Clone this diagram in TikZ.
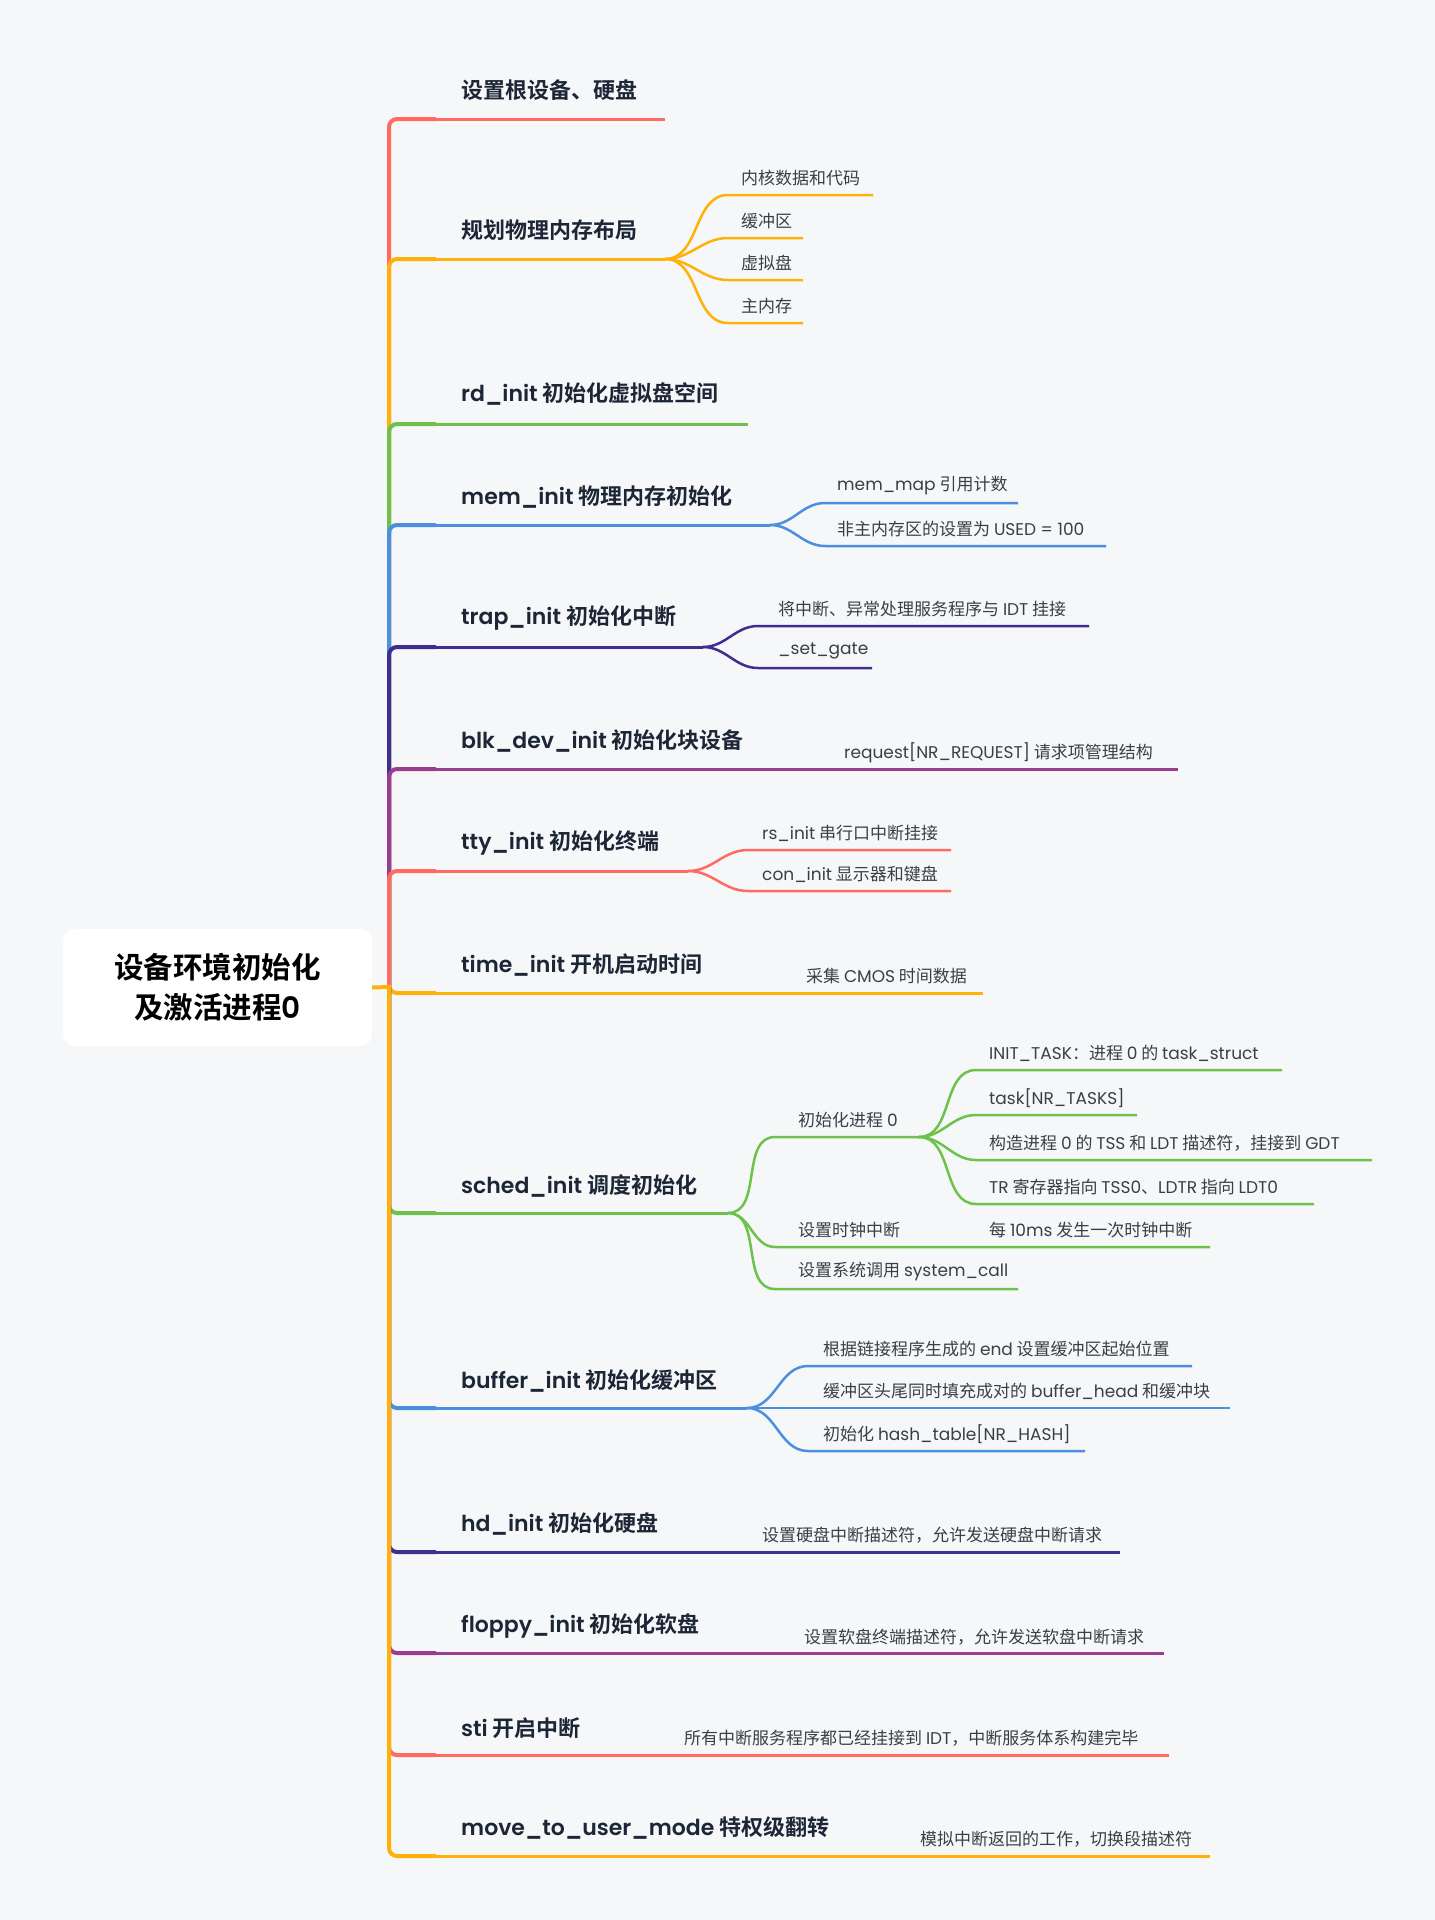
\documentclass[tikz,border=0pt]{standalone}
\usepackage{fontspec}
\setmainfont{Noto Sans CJK SC}[BoldFont={Noto Sans CJK SC Bold}]
\newfontfamily\latinfont{Poppins}[BoldFont={Poppins SemiBold}]
\newcommand{\en}[1]{{\latinfont #1}}
\usepackage{tikz}

\definecolor{bgcol}{HTML}{F6F7F9}
\definecolor{cred}{HTML}{FF6B61}
\definecolor{cyel}{HTML}{FFB10A}
\definecolor{cgrn}{HTML}{6CC24A}
\definecolor{cblu}{HTML}{4A8FE0}
\definecolor{cind}{HTML}{3F2E91}
\definecolor{cmag}{HTML}{9A3C8F}
\definecolor{ctitle}{HTML}{1D2636}
\definecolor{ctext}{HTML}{3A3F47}

\tikzset{
  rootbox/.style={fill=white,rounded corners=12pt,minimum width=309pt,minimum height=117pt,
    align=center,text=black,font=\fontsize{29.5}{40}\selectfont\bfseries},
  mainlbl/.style={anchor=west,inner sep=0pt,text=ctitle,font=\fontsize{22}{26}\selectfont\bfseries},
  sublbl/.style={anchor=west,inner sep=0pt,text=ctext,font=\fontsize{17}{20}\selectfont},
  trunk/.style={line width=4pt,rounded corners=8pt},
  limb/.style={line width=3pt},
  twig/.style={line width=2.5pt},
  sbend/.style={out=0,in=180}
}

\begin{document}
\begin{tikzpicture}[x=1pt,y=-1pt]
\fill[bgcol] (0,0) rectangle (1435,1920);
\useasboundingbox (0,0) rectangle (1435,1920);

\node[rootbox] (root) at (217.5,987.5) {设备环境初始化\\及激活进程\en{0}};
\coordinate (R) at (389,987);

% main topics
\node[mainlbl] (t1) at (461,90) {设置根设备、硬盘};
\node[mainlbl] (t2) at (461,230) {规划物理内存布局};
\node[mainlbl] (t3) at (461,394) {\en{rd\_init} 初始化虚拟盘空间};
\node[mainlbl] (t4) at (461,497) {\en{mem\_init} 物理内存初始化};
\node[mainlbl] (t5) at (461,618) {\en{trap\_init} 初始化中断};
\node[mainlbl] (t6) at (461,741) {\en{blk\_dev\_init} 初始化块设备};
\node[mainlbl] (t7) at (461,843) {\en{tty\_init} 初始化终端};
\node[mainlbl] (t8) at (461,965) {\en{time\_init} 开机启动时间};
\node[mainlbl] (t9) at (461,1186) {\en{sched\_init} 调度初始化};
\node[mainlbl] (t10) at (461,1381) {\en{buffer\_init} 初始化缓冲区};
\node[mainlbl] (t11) at (461,1524) {\en{hd\_init} 初始化硬盘};
\node[mainlbl] (t12) at (461,1626) {\en{floppy\_init} 初始化软盘};
\node[mainlbl] (t13) at (461,1728) {\en{sti} 开启中断};
\node[mainlbl] (t14) at (461,1828) {\en{move\_to\_user\_mode} 特权级翻转};

% branch ends
\foreach \n/\y/\e in {1/119/665,2/259/665,3/424/748,4/525/770,5/647/703,6/769/1178,7/871/688,
  8/993/983,9/1213/728,10/1408/747,11/1552/1120,12/1653/1164,13/1755/1169,14/1856/1210}{
  \coordinate (s\n) at (436,\y);
  \coordinate (e\n) at (\e,\y);
}

% inline notes
\node[sublbl] (k1) at (844,753) {\en{request[NR\_REQUEST]} 请求项管理结构};
\node[sublbl] (c1) at (806,976) {采集 \en{CMOS} 时间数据};
\node[sublbl] (h1) at (762,1535) {设置硬盘中断描述符，允许发送硬盘中断请求};
\node[sublbl] (l1) at (804,1637) {设置软盘终端描述符，允许发送软盘中断请求};
\node[sublbl] (i1) at (684,1738) {所有中断服务程序都已经挂接到 \en{IDT}，中断服务体系构建完毕};
\node[sublbl] (u1) at (920,1839) {模拟中断返回的工作，切换段描述符};

% branches, drawn top to bottom
\draw[trunk,cred] (R) |- (s1);
\draw[limb,cred] (s1) -- (e1);
\draw[trunk,cyel] (R) |- (s2);
\draw[limb,cyel] (s2) -- (e2);
\draw[trunk,cgrn] (R) |- (s3);
\draw[limb,cgrn] (s3) -- (e3);
\draw[trunk,cblu] (R) |- (s4);
\draw[limb,cblu] (s4) -- (e4);
\draw[trunk,cind] (R) |- (s5);
\draw[limb,cind] (s5) -- (e5);
\draw[trunk,cmag] (R) |- (s6);
\draw[limb,cmag] (s6) -- (e6);
\draw[trunk,cred] (R) |- (s7);
\draw[limb,cred] (s7) -- (e7);
\draw[trunk,cyel] (R) |- (s8);
\draw[limb,cyel] (s8) -- (e8);
\draw[trunk,cgrn] (R) |- (s9);
\draw[limb,cgrn] (s9) -- (e9);
\draw[trunk,cblu] (R) |- (s10);
\draw[limb,cblu] (s10) -- (e10);
\draw[trunk,cind] (R) |- (s11);
\draw[limb,cind] (s11) -- (e11);
\draw[trunk,cmag] (R) |- (s12);
\draw[limb,cmag] (s12) -- (e12);
\draw[trunk,cred] (R) |- (s13);
\draw[limb,cred] (s13) -- (e13);
\draw[trunk,cyel] (R) |- (s14);
\draw[limb,cyel] (s14) -- (e14);
\draw[trunk,cyel] (root.east) -- (R);

% sub topics: name/line y/start x/end x/text
\foreach \n/\y/\x/\e/\t in {a1/195/728/873/{内核数据和代码},a2/238/728/803/{缓冲区},
  a3/280/728/803/{虚拟盘},a4/323/728/803/{主内存}}{
  \node[sublbl] (\n) at (\x+13,\y-17) {\t};
  \draw[twig,cyel] (e2) to[sbend] (\x,\y) coordinate (\n s) -- (\e,\y) coordinate (\n e);
}
\foreach \n/\y/\x/\e/\t in {m1/503/825/1018/{\en{mem\_map} 引用计数},
  m2/546/825/1106/{非主内存区的设置为 \en{USED = 100}}}{
  \node[sublbl] (\n) at (\x+12,\y-17) {\t};
  \draw[twig,cblu] (e4) to[sbend] (\x,\y) coordinate (\n s) -- (\e,\y) coordinate (\n e);
}
\foreach \n/\y/\x/\e/\t in {p1/626/758/1089/{将中断、异常处理服务程序与 \en{IDT} 挂接},
  p2/668/758/872/{\en{\_set\_gate}}}{
  \node[sublbl] (\n) at (\x+20,\y-17) {\t};
  \draw[twig,cind] (e5) to[sbend] (\x,\y) coordinate (\n s) -- (\e,\y) coordinate (\n e);
}
\foreach \n/\y/\x/\e/\t in {y1/850/748/951/{\en{rs\_init} 串行口中断挂接},
  y2/891/748/951/{\en{con\_init} 显示器和键盘}}{
  \node[sublbl] (\n) at (\x+14,\y-17) {\t};
  \draw[twig,cred] (e7) to[sbend] (\x,\y) coordinate (\n s) -- (\e,\y) coordinate (\n e);
}
\foreach \n/\y/\x/\e/\t in {q1/1137/775/919/{初始化进程 \en{0}},q2/1247/775/1210/{设置时钟中断},
  q3/1289/775/1018/{设置系统调用 \en{system\_call}}}{
  \node[sublbl] (\n) at (\x+23,\y-17) {\t};
  \draw[twig,cgrn] (e9) to[sbend] (\x,\y) coordinate (\n s) -- (\e,\y) coordinate (\n e);
}
\node[sublbl] (g5) at (989,1230) {每 \en{10ms} 发生一次时钟中断};
\foreach \n/\y/\x/\e/\t in {g1/1070/976/1282/{\en{INIT\_TASK}：进程 \en{0} 的 \en{task\_struct}},
  g2/1115/976/1137/{\en{task[NR\_TASKS]}},
  g3/1160/976/1372/{构造进程 \en{0} 的 \en{TSS} 和 \en{LDT} 描述符，挂接到 \en{GDT}},
  g4/1204/976/1314/{\en{TR} 寄存器指向 \en{TSS0}、\en{LDTR} 指向 \en{LDT0}}}{
  \node[sublbl] (\n) at (\x+13,\y-17) {\t};
  \draw[twig,cgrn] (q1e) to[sbend] (\x,\y) coordinate (\n s) -- (\e,\y) coordinate (\n e);
}
\foreach \n/\y/\x/\e/\t in {f1/1366/808/1192/{根据链接程序生成的 \en{end} 设置缓冲区起始位置},
  f2/1408/808/1230/{缓冲区头尾同时填充成对的 \en{buffer\_head} 和缓冲块},
  f3/1451/808/1085/{初始化 \en{hash\_table[NR\_HASH]}}}{
  \node[sublbl] (\n) at (\x+15,\y-17) {\t};
  \draw[twig,cblu] (e10) to[sbend] (\x,\y) coordinate (\n s) -- (\e,\y) coordinate (\n e);
}
\end{tikzpicture}
\end{document}
